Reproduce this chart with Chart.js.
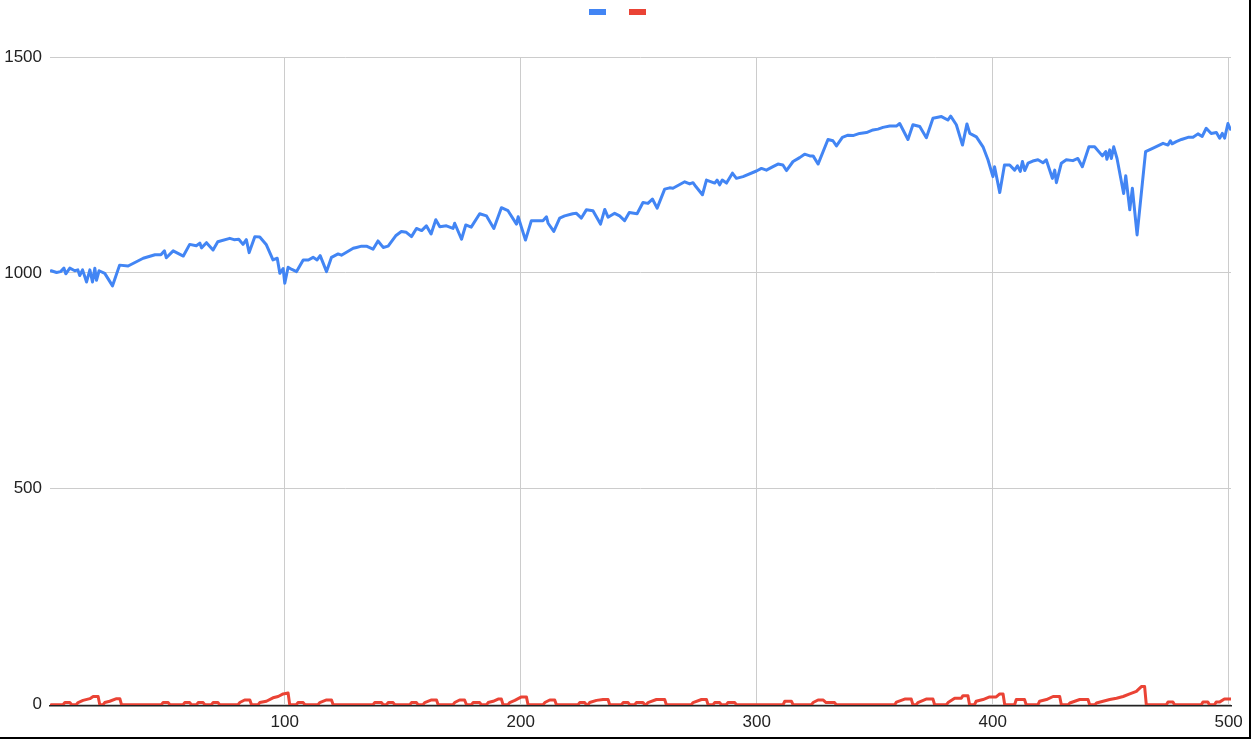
<!DOCTYPE html>
<html>
<head>
<meta charset="utf-8">
<script src="https://cdn.jsdelivr.net/npm/chart.js@4/dist/chart.umd.min.js"></script>
<style>
  body { margin: 0; background: #fff; }
  #wrap { width: 1249px; height: 737px; border-right: 2px solid #000; border-bottom: 2px solid #000; }
  canvas { display: block; }
</style>
</head>
<body>
<div id="wrap"><canvas id="mainCanvas" width="1249" height="737"></canvas></div>
<script>
// values (x = sample index)
const blueX = [1, 3.3, 5, 6.4, 7.2, 8.9, 11, 12.3, 13.1, 14.3, 16, 17.4, 18.5, 19.5, 20.2, 21.3, 23.7, 27, 30, 33.6,
  40, 45, 47.5, 49, 49.8, 52.7, 57, 59.7, 62.5, 64, 64.7, 66.8, 69.6, 71.6, 76.7, 78.5, 80.5, 82.3, 83.7, 84.9,
  87.3, 89.4, 92.2, 95, 96.8, 97.9, 99.3, 100, 101.4, 103, 105, 107.8, 110, 112, 113.7, 115, 117.7, 119.8, 122.6, 124,
  129, 130.4, 132.5, 134.6, 137.4, 139.5, 141.7, 143.8, 147, 149.4, 151.5, 153.7, 155.8, 158, 160, 162, 164, 165.7, 168.5, 171.3,
  172, 174.9, 176.7, 179, 182.6, 185.5, 188.6, 191.8, 194.6, 198.2, 198.9, 202, 204.5, 207, 209.4, 210.9, 211.6, 214, 216.5, 218.6,
  222, 223.6, 225.7, 227.8, 230.6, 233.8, 235.6, 237, 239.8, 241.9, 244, 246, 249.3, 251.8, 253.9, 255.8, 257.8, 261, 263.1, 264.5,
  269.5, 271.6, 273, 274.2, 277, 278.7, 282.2, 283.2, 284.3, 285.4, 287.2, 289.7, 291.4, 294.2, 299.9, 302, 304.1, 306.9, 309, 311.1,
  312.6, 315.4, 318.2, 320.3, 322.5, 323.9, 326, 330.2, 332.3, 333.8, 336.3, 338.7, 340.8, 343.6, 346.5, 349.3, 351.4, 353.5, 356.4, 359.2,
  360.6, 364.1, 366.2, 369.1, 371.9, 374.7, 378.3, 381, 382.2, 384.6, 387.2, 389.1, 390.3, 393.1, 395.9, 398, 400.1, 400.8, 403, 405,
  407.2, 409.3, 410.5, 411.7, 412.6, 413.6, 415, 417, 419.2, 421.3, 422.7, 425.3, 426.3, 427, 429.1, 431.2, 434, 436.1, 438, 440.8,
  443.2, 446.5, 447.9, 448.4, 449.6, 450.3, 451.3, 452.7, 455.5, 456.4, 458.1, 459.2, 461.2, 464.8, 468, 472.2, 474.3, 475.3, 476, 477.8,
  480, 482.8, 484.9, 487, 488.8, 490.5, 492.6, 494.8, 496.2, 497.3, 498.3, 499.7, 500.7];
const blueY = [1005, 1001, 1003, 1011, 998, 1011, 1005, 1007, 994, 1007, 979, 1007, 979, 1011, 983, 1005, 999, 970, 1018, 1016,
  1034, 1042, 1042, 1051, 1035, 1051, 1039, 1066, 1063, 1069, 1058, 1070, 1053, 1072, 1080, 1077, 1078, 1066, 1077, 1047,
  1084, 1083, 1065, 1030, 1034, 999, 1010, 976, 1013, 1008, 1003, 1030, 1030, 1036, 1030, 1040, 1003, 1036, 1044, 1041,
  1057, 1059, 1062, 1062, 1055, 1074, 1059, 1062, 1086, 1096, 1094, 1084, 1103, 1098, 1109, 1090, 1123, 1107, 1109, 1103,
  1115, 1078, 1111, 1106, 1137, 1132, 1103, 1151, 1144, 1113, 1130, 1076, 1121, 1121, 1121, 1130, 1115, 1096, 1127, 1132,
  1137, 1138, 1127, 1146, 1144, 1113, 1147, 1129, 1138, 1132, 1121, 1140, 1137, 1163, 1161, 1171, 1150, 1194, 1197, 1196,
  1211, 1206, 1209, 1200, 1181, 1215, 1208, 1215, 1204, 1215, 1208, 1231, 1219, 1223, 1236, 1242, 1238, 1246, 1252, 1250,
  1237, 1258, 1267, 1275, 1271, 1271, 1252, 1309, 1306, 1294, 1314, 1319, 1318, 1323, 1325, 1331, 1333, 1337, 1340, 1340,
  1346, 1309, 1343, 1339, 1313, 1358, 1362, 1354, 1363, 1343, 1296, 1345, 1323, 1315, 1292, 1262, 1223, 1246, 1186, 1250,
  1250, 1238, 1248, 1235, 1258, 1237, 1254, 1259, 1262, 1255, 1262, 1219, 1238, 1209, 1254, 1262, 1260, 1265, 1246, 1292,
  1292, 1271, 1281, 1263, 1285, 1265, 1292, 1265, 1184, 1225, 1146, 1196, 1088, 1281, 1289, 1300, 1296, 1306, 1299, 1304,
  1309, 1314, 1314, 1322, 1316, 1335, 1323, 1325, 1312, 1323, 1312, 1346, 1333];

const redX = [1, 6, 6.8, 8.9, 9.7, 11.6, 12.4, 14.5, 17.4, 18.8, 20.9, 21.6, 23, 23.7, 25.8, 28.7, 30.1, 30.8,
  47.7, 48.4, 50.6, 51.3, 56.9, 57.6, 59.7, 60.4, 62.6, 63.3, 65.4, 66.1, 68.9, 69.6, 71.7, 72.4,
  80.2, 80.9, 83, 85.2, 85.9, 88.7, 89.4, 92.2, 95, 97.2, 99.3, 101.4, 102.1,
  104.9, 105.6, 107.8, 108.5, 114.1, 114.8, 117.7, 119.8, 120.5,
  137.4, 138.1, 141, 141.7, 143.1, 143.8, 145.9, 146.6, 153, 153.7, 155.8, 156.5,
  158.6, 159.3, 162.2, 164.3, 165, 171.3, 172, 174.1, 176.2, 177, 179.1, 179.8, 182.6, 183.3,
  185.5, 186.2, 188.3, 190.4, 191.8, 192.5, 194.6, 195.3, 197.5, 200.3, 202.4, 203.1,
  209.5, 210.2, 212.3, 214.4, 215.1, 224.3, 225, 227.1, 227.8, 228.5, 229.2, 232.1, 234.9, 237, 237.7,
  242.7, 243.4, 245.5, 246.2, 248.3, 249, 251.8, 252.6, 253.2, 253.9, 257.5, 261, 261.7,
  272.3, 273, 276.6, 278.7, 279.4, 281.5, 282.2, 284.3, 285, 287.1, 287.8, 290.7, 291.4,
  311.2, 311.9, 314.7, 315.4, 323.2, 323.9, 326, 328.1, 329.4, 333, 333.7,
  358.5, 359.2, 362.7, 365.5, 366.2, 367.6, 368.3, 371.8, 374.7, 375.4,
  380.4, 381.1, 383.9, 386.7, 387.4, 389.5, 390.2, 392.3, 393, 395.9, 398.7, 401.5, 403, 404.4, 405.1,
  409.3, 410, 413.5, 414.2, 419.2, 419.9, 422.8, 425.6, 428.4, 429.1, 432, 432.7, 436.9, 440.4, 441.1,
  443.3, 444, 446.8, 449.6, 452.5, 455.3, 458.1, 460.9, 463, 464.4, 465.1,
  473.6, 474.3, 476.4, 477.1, 488.4, 489.1, 491.2, 491.9, 494, 494.7, 496.1, 498.2, 501];
const redY = [0, 0, 5, 5, 0, 0, 5, 10, 14, 19, 19, 0, 0, 5, 8, 14, 14, 0,
  0, 5, 5, 0, 0, 5, 5, 0, 0, 5, 5, 0, 0, 5, 5, 0,
  0, 5, 11, 11, 0, 0, 5, 8, 16, 19, 25, 27, 0,
  0, 5, 5, 0, 0, 5, 11, 11, 0,
  0, 5, 5, 0, 0, 5, 5, 0, 0, 5, 5, 0,
  0, 5, 11, 11, 0, 0, 5, 11, 11, 0, 0, 5, 5, 0,
  0, 5, 8, 13, 13, 0, 0, 5, 10, 18, 18, 0,
  0, 5, 11, 11, 0, 0, 5, 5, 0, 0, 5, 10, 12, 12, 0,
  0, 5, 5, 0, 0, 5, 5, 0, 0, 5, 12, 12, 0,
  0, 5, 12, 12, 0, 0, 5, 5, 0, 0, 5, 5, 0,
  0, 8, 8, 0, 0, 5, 11, 11, 5, 5, 0,
  0, 6, 13, 13, 0, 0, 5, 13, 13, 0,
  0, 5, 15, 15, 21, 21, 0, 0, 8, 12, 18, 18, 25, 25, 0,
  0, 12, 12, 0, 0, 8, 12, 19, 19, 0, 0, 4, 12, 12, 0,
  0, 4, 8, 12, 15, 19, 25, 31, 42, 42, 0,
  0, 6, 6, 0, 0, 6, 6, 0, 0, 6, 6, 13, 13];

const xTicks = [100, 200, 300, 400, 500];
const yTicks = [0, 500, 1000, 1500];
const seriesColors = ['#4285f4', '#ea4335'];

document.addEventListener('DOMContentLoaded', () => {
  const ctx = document.getElementById('mainCanvas').getContext('2d');

  Chart.defaults.font.family = "'Liberation Sans', Arial, sans-serif";
  Chart.defaults.color = '#222';

  // push the plot area down below the legend row
  const legendSpacer = {
    id: 'legendSpacer',
    beforeInit(chart) {
      const fit = chart.legend.fit;
      chart.legend.fit = function () {
        fit.call(this);
        this.height += 29;
      };
    }
  };

  const toPoints = (xs, ys) => xs.map((x, i) => ({ x, y: ys[i] }));

  new Chart(ctx, {
    type: 'line',
    data: {
      datasets: [
        { label: '', data: toPoints(blueX, blueY), borderColor: seriesColors[0], backgroundColor: seriesColors[0] },
        { label: '', data: toPoints(redX, redY), borderColor: seriesColors[1], backgroundColor: seriesColors[1] }
      ]
    },
    options: {
      responsive: false,
      animation: false,
      layout: { padding: { top: -11, left: 0, right: 8, bottom: 0 } },
      elements: {
        line: { borderWidth: 3, tension: 0, borderJoinStyle: 'round', borderCapStyle: 'round' },
        point: { radius: 0 }
      },
      plugins: {
        legend: {
          position: 'top',
          labels: {
            boxWidth: 17,
            boxHeight: 6,
            padding: 17,
            font: { size: 12 },
            generateLabels: chart => Chart.defaults.plugins.legend.labels.generateLabels(chart)
              .map(item => ({ ...item, lineWidth: 0 }))
          }
        },
        tooltip: { enabled: false }
      },
      scales: {
        x: {
          type: 'linear',
          min: 0.5,
          max: 501,
          grid: { color: '#cccccc', drawTicks: false },
          border: { color: '#222', width: 1.5, z: 1 },
          ticks: { font: { size: 17 }, padding: 6, maxRotation: 0, callback: v => String(v) },
          afterBuildTicks: s => { s.ticks = xTicks.map(value => ({ value })); },
          afterFit: s => { s.height = 31; s.paddingRight = 18; }
        },
        y: {
          min: -3,
          max: 1500,
          grid: { color: '#cccccc', drawTicks: false },
          border: { display: false },
          ticks: { font: { size: 17 }, padding: 8, callback: v => String(v) },
          afterBuildTicks: s => { s.ticks = yTicks.map(value => ({ value })); },
          afterFit: s => { s.width = 50; }
        }
      }
    },
    plugins: [legendSpacer]
  });
});
</script>
</body>
</html>
